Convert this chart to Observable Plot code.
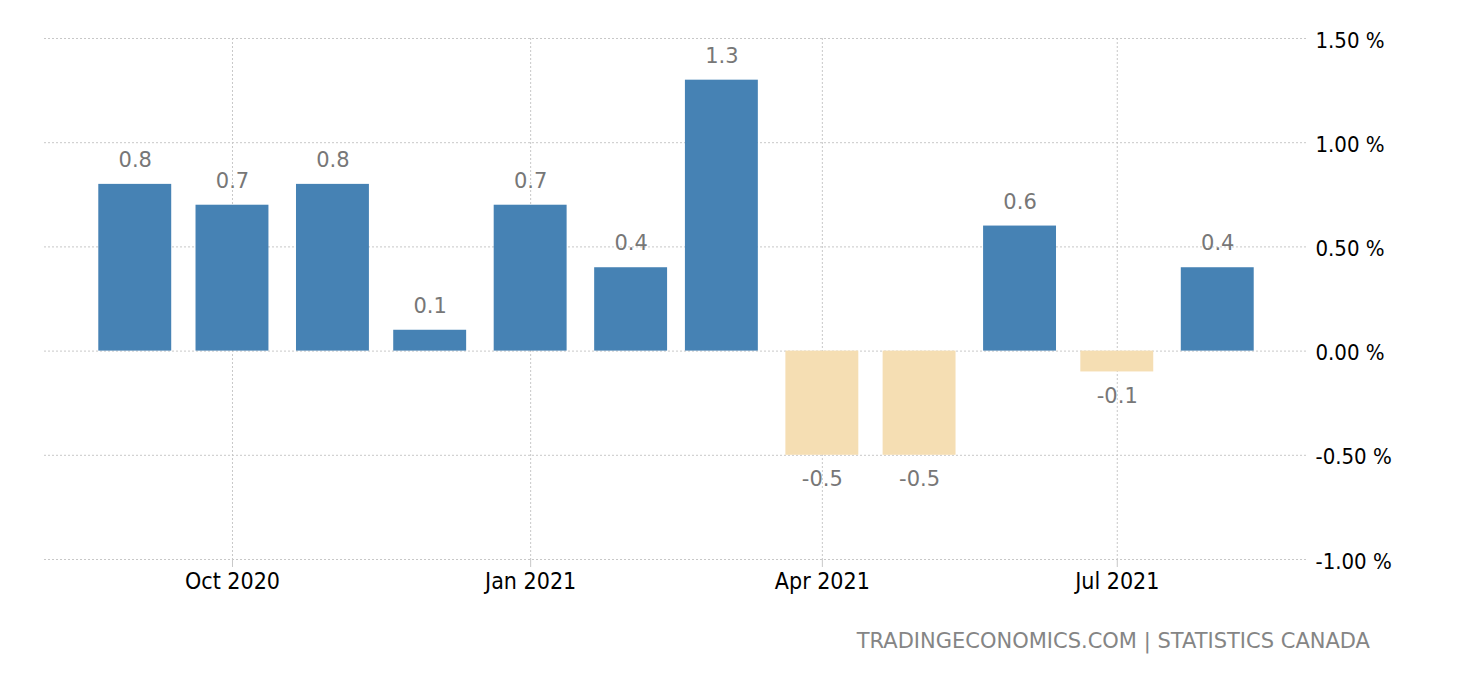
<!DOCTYPE html>
<html>
<head>
<meta charset="utf-8">
<script src="https://cdn.jsdelivr.net/npm/d3@7"></script>
<script src="https://cdn.jsdelivr.net/npm/@observablehq/plot@0.6"></script>
<style>
  body { margin: 0; background: #fff; }
  #chart { position: absolute; left: 0; top: 0; }
  #caption {
    position: absolute; top: 629px; right: 90px;
    font-family: "DejaVu Sans", sans-serif;
    font-size: 21px; color: #858585; white-space: nowrap;
  }
</style>
</head>
<body>
<div id="chart"></div>
<div id="caption">TRADINGECONOMICS.COM | STATISTICS CANADA</div>
<script>
// ---- data ----
const months = ["2020-09-01","2020-10-01","2020-11-01","2020-12-01","2021-01-01","2021-02-01",
                "2021-03-01","2021-04-01","2021-05-01","2021-06-01","2021-07-01","2021-08-01"];
const values = [0.8, 0.7, 0.8, 0.1, 0.7, 0.4, 1.3, -0.5, -0.5, 0.6, -0.1, 0.4];
const yTicks = [-1, -0.5, 0, 0.5, 1, 1.5];
const xTickDates = ["2020-10-01","2021-01-01","2021-04-01","2021-07-01"];
const xDomainDates = ["2020-08-04","2021-08-29"];
const yDomain = [-1, 1.5];

// ---- build table ----
const data = months.map((m, i) => ({date: new Date(m + "T00:00:00Z"), value: values[i]}));
const xTicks = xTickDates.map(d => new Date(d + "T00:00:00Z"));
const xDomain = xDomainDates.map(d => new Date(d + "T00:00:00Z"));
const halfBar = 11.25 * 864e5; // half bar width in time units
const fmtMonth = d3.utcFormat("%b %Y");

const plot = Plot.plot({
  width: 1460,
  height: 610,
  marginTop: 38,
  marginBottom: 51,
  marginLeft: 44,
  marginRight: 152,
  style: {fontFamily: '"DejaVu Sans Condensed", "DejaVu Sans", sans-serif', fontSize: "22px", background: "#fff", color: "#000"},
  x: {type: "utc", domain: xDomain},
  y: {domain: yDomain},
  color: {type: "identity"},
  marks: [
    Plot.ruleY(yTicks, {stroke: "#c8c8c8", strokeDasharray: "2,2"}),
    Plot.ruleX(xTicks, {stroke: "#c8c8c8", strokeDasharray: "2,2"}),
    Plot.rect(data, {
      x1: d => new Date(+d.date - halfBar),
      x2: d => new Date(+d.date + halfBar),
      y1: 0,
      y2: "value",
      fill: d => d.value >= 0 ? "#4682B4" : "#F5DEB3"
    }),
    Plot.text(data, {
      filter: d => d.value >= 0,
      x: "date", y: "value",
      text: d => d.value.toFixed(1),
      dy: -24, fill: "#777",
      fontFamily: '"DejaVu Sans", sans-serif', fontSize: 21
    }),
    Plot.text(data, {
      filter: d => d.value < 0,
      x: "date", y: "value",
      text: d => d.value.toFixed(1),
      dy: 24, fill: "#777",
      fontFamily: '"DejaVu Sans", sans-serif', fontSize: 21
    }),
    Plot.axisX({
      ticks: xTicks, tickFormat: fmtMonth, tickSize: 8, tickPadding: 5,
      stroke: "#c8c8c8", fill: "#000", fontSize: 23, label: null
    }),
    Plot.axisY({
      anchor: "right", ticks: yTicks, tickSize: 0, tickPadding: 7,
      tickFormat: d => d.toFixed(2) + " %", fill: "#000", fontSize: 22, dy: 2, label: null
    })
  ]
});
document.getElementById("chart").appendChild(plot);
</script>
</body>
</html>
